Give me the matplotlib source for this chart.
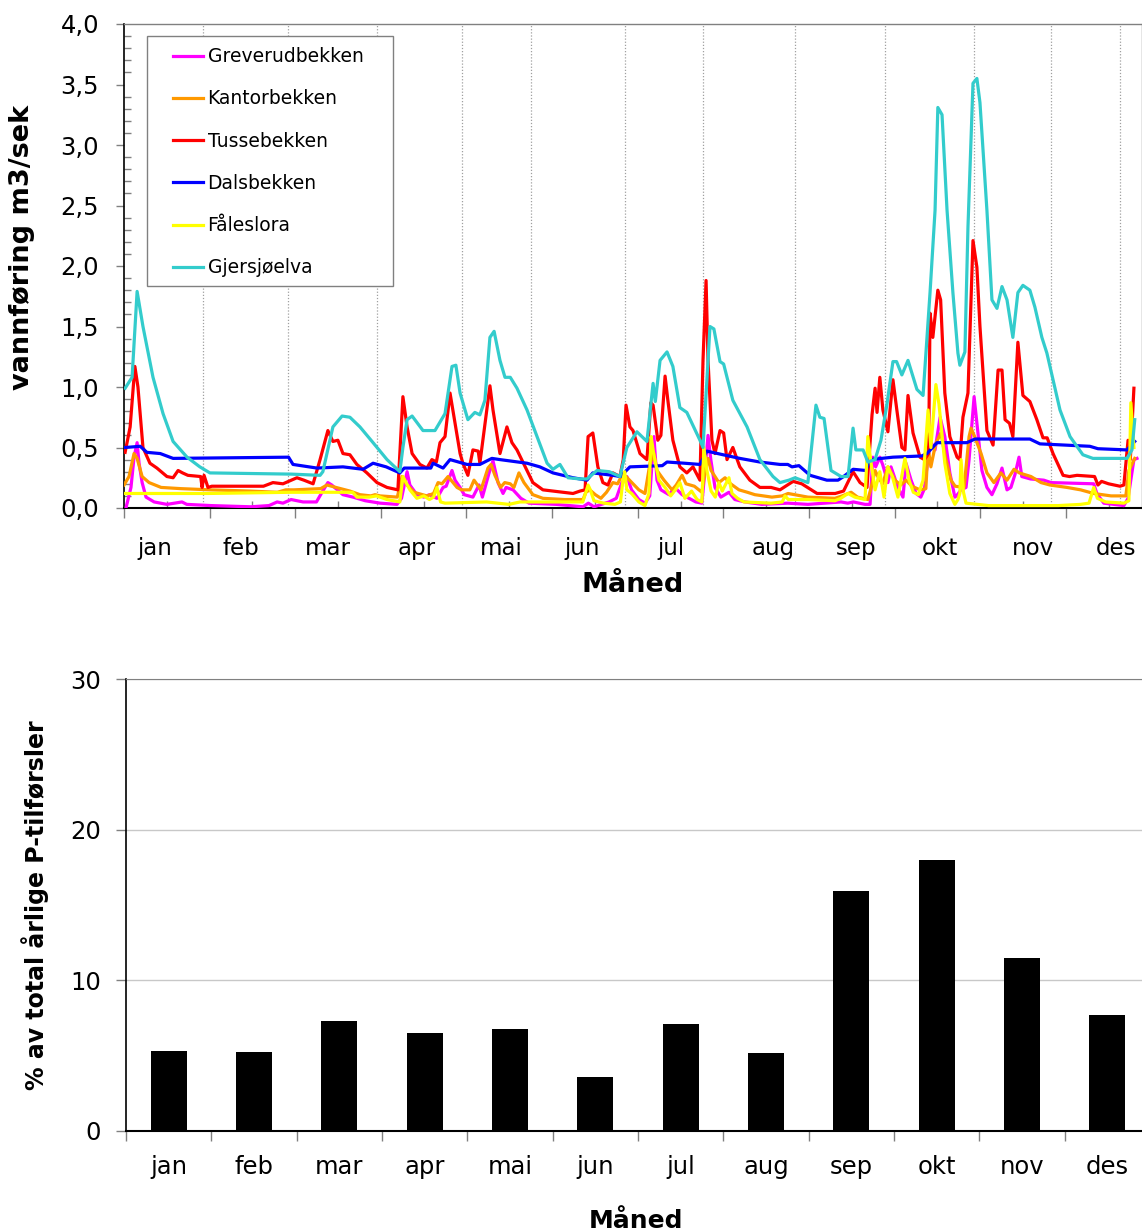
import numpy as np
import matplotlib
matplotlib.use("Agg")
import matplotlib.pyplot as plt
from matplotlib.patches import Rectangle
from matplotlib.ticker import MultipleLocator, FixedLocator, FuncFormatter
from matplotlib.transforms import blended_transform_factory

# --- data -------------------------------------------------------------
months = ["jan", "feb", "mar", "apr", "mai", "jun", "jul", "aug", "sep", "okt", "nov", "des"]

# % of total yearly P load per month
p_share = [5.3, 5.25, 7.3, 6.5, 6.8, 3.6, 7.1, 5.2, 15.9, 18.0, 11.5, 7.7]

series_names = ["Greverudbekken", "Kantorbekken", "Tussebekken",
                "Dalsbekken", "Fåleslora", "Gjersjøelva"]
series_colors = ["#FF00FF", "#FF9900", "#FF0000", "#0000FF", "#FFFF00", "#33CCCC"]

# (day of year, m3/s)
greverud = [(0.7,0.00),(2.5,0.17),(3.6,0.42),(4.7,0.54),(5.4,0.37),(6.5,0.21),(7.9,0.09),(10.8,0.05),
            (15.4,0.03),(20.8,0.05),(22.5,0.03),(31.2,0.02),(45.5,0.01),(52.0,0.02),(54.9,0.05),(57.0,0.04),
            (59.9,0.07),(64.2,0.05),(69.0,0.05),(71.0,0.13),(73.1,0.21),(74.5,0.19),(78.5,0.11),(82.1,0.09),
            (86.5,0.06),(91.8,0.04),(97.9,0.03),(99.5,0.08),(101.5,0.30),(102.5,0.19),(105.0,0.11),(107.5,0.09),
            (109.5,0.11),(112.2,0.08),(114.4,0.17),(115.5,0.18),(117.6,0.31),(118.7,0.23),(120.5,0.17),(122.0,0.11),
            (125.1,0.09),(127.3,0.19),(128.5,0.09),(130.9,0.29),(132.3,0.39),(134.1,0.21),(135.9,0.12),(137.0,0.17),
            (139.5,0.15),(142.3,0.08),(145.2,0.04),(155.0,0.03),(164.6,0.01),(166.5,0.04),(168.5,0.01),(173.9,0.05),
            (176.5,0.08),(178.5,0.21),(180.3,0.26),(182.0,0.15),(184.6,0.07),(186.8,0.04),(188.5,0.10),(190.0,0.59),
            (191.1,0.23),(192.5,0.15),(195.4,0.11),(197.5,0.17),(200.1,0.11),(202.6,0.08),(205.0,0.05),(207.2,0.04),
            (208.3,0.31),(209.4,0.60),(210.4,0.40),(211.9,0.17),(214.0,0.09),(216.9,0.13),(219.0,0.07),(222.6,0.05),
            (228.7,0.03),(238.0,0.04),(245.2,0.03),(257.1,0.05),(259.5,0.04),(261.5,0.05),(265.7,0.03),(267.5,0.03),
            (268.5,0.42),(269.5,0.34),(271.0,0.42),(272.0,0.36),(273.9,0.21),(275.0,0.34),(277.5,0.17),(279.3,0.09),
            (280.4,0.37),(282.2,0.23),(284.0,0.12),(285.7,0.09),(287.0,0.16),(289.0,0.56),(290.8,0.48),(292.6,0.75),
            (294.3,0.59),(296.1,0.29),(297.9,0.09),(298.5,0.10),(300.1,0.15),(301.9,0.17),(303.0,0.40),(304.8,0.92),
            (305.8,0.70),(307.6,0.31),(309.4,0.17),(311.2,0.11),(313.0,0.20),(314.8,0.33),(316.6,0.15),(318.0,0.17),
            (319.5,0.28),(320.9,0.42),(321.9,0.26),(325.0,0.24),(329.8,0.23),(332.4,0.21),(347.7,0.20),(348.8,0.12),
            (351.3,0.04),(358.5,0.02),(360.0,0.08),(362.1,0.40),(363.2,0.41)]

kantor = [(0.0,0.19),(1.8,0.26),(3.6,0.45),(4.7,0.41),(6.5,0.26),(9.0,0.21),(13.3,0.17),(20.4,0.16),
          (31.2,0.15),(45.0,0.14),(55.0,0.13),(58.0,0.15),(60.9,0.15),(70.5,0.16),(72.8,0.19),(76.0,0.17),
          (81.0,0.14),(84.6,0.11),(88.5,0.10),(90.0,0.11),(91.8,0.10),(98.0,0.09),(99.7,0.26),(101.5,0.19),
          (104.0,0.13),(108.6,0.10),(111.0,0.12),(112.6,0.21),(114.0,0.20),(116.2,0.26),(118.0,0.21),(119.4,0.17),
          (121.0,0.15),(124.0,0.15),(125.5,0.23),(128.0,0.15),(130.5,0.33),(131.6,0.36),(133.0,0.27),(135.0,0.17),
          (136.5,0.21),(138.5,0.20),(139.8,0.17),(141.6,0.29),(143.4,0.21),(146.6,0.11),(150.2,0.08),(158.0,0.07),
          (164.6,0.07),(165.6,0.13),(167.0,0.15),(169.0,0.11),(171.0,0.08),(173.0,0.13),(175.3,0.21),(177.0,0.20),
          (178.5,0.27),(180.0,0.26),(182.1,0.21),(184.6,0.15),(186.8,0.12),(188.6,0.37),(190.0,0.45),(191.1,0.31),
          (193.6,0.23),(196.5,0.15),(198.0,0.19),(200.1,0.27),(201.5,0.20),(204.5,0.18),(207.2,0.13),(208.3,0.30),
          (209.4,0.41),(210.5,0.31),(213.3,0.21),(215.5,0.25),(217.5,0.20),(220.5,0.15),(223.5,0.13),(226.2,0.11),
          (232.3,0.09),(236.0,0.10),(238.1,0.12),(240.5,0.11),(245.2,0.09),(254.9,0.08),(257.5,0.10),(260.7,0.13),
          (263.0,0.09),(266.7,0.07),(267.8,0.16),(269.3,0.31),(270.5,0.25),(272.0,0.20),(273.9,0.34),(276.4,0.23),
          (278.5,0.19),(280.4,0.23),(282.5,0.18),(285.4,0.15),(287.5,0.16),(288.3,0.50),(289.3,0.34),(291.0,0.53),
          (292.9,0.62),(294.5,0.42),(296.5,0.23),(298.0,0.18),(301.2,0.17),(303.0,0.59),(303.7,0.66),(305.0,0.59),
          (307.3,0.45),(309.4,0.29),(311.9,0.21),(314.4,0.29),(316.6,0.23),(319.1,0.32),(321.0,0.29),(325.2,0.26),
          (328.8,0.21),(332.0,0.19),(338.1,0.17),(343.0,0.15),(347.7,0.12),(353.9,0.10),(359.2,0.10),(360.3,0.31),
          (362.4,0.41)]

tusse = [(0.4,0.46),(2.2,0.67),(3.9,1.17),(5.0,1.00),(6.8,0.50),(9.3,0.37),(11.8,0.33),(15.4,0.26),
         (17.6,0.25),(19.4,0.31),(21.0,0.29),(22.9,0.27),(27.5,0.26),(28.0,0.17),(28.7,0.27),(30.1,0.17),
         (31.5,0.18),(50.0,0.18),(53.4,0.21),(57.0,0.20),(62.0,0.25),(64.5,0.23),(67.8,0.20),(70.3,0.40),
         (73.1,0.64),(74.9,0.55),(76.7,0.56),(78.5,0.45),(81.0,0.44),(83.5,0.36),(87.1,0.29),(90.7,0.21),
         (94.3,0.17),(98.2,0.15),(100.0,0.92),(101.5,0.67),(103.3,0.45),(106.1,0.36),(108.6,0.33),(110.4,0.40),
         (112.0,0.38),(113.3,0.54),(115.1,0.59),(116.9,0.95),(118.7,0.70),(120.5,0.45),(121.5,0.37),(123.3,0.27),
         (125.1,0.48),(127.0,0.47),(127.6,0.37),(130.1,0.81),(131.2,1.01),(132.3,0.81),(134.8,0.45),(137.3,0.67),
         (139.1,0.54),(140.9,0.48),(144.5,0.31),(146.6,0.21),(150.2,0.15),(161.0,0.12),(163.5,0.14),(165.3,0.15),
         (166.4,0.59),(168.1,0.62),(169.9,0.34),(171.7,0.21),(173.5,0.19),(175.3,0.29),(177.8,0.26),(179.0,0.40),
         (180.0,0.85),(181.4,0.67),(182.5,0.64),(185.0,0.45),(187.5,0.40),(188.9,0.87),(189.7,0.85),(191.4,0.56),
         (192.5,0.60),(194.0,1.09),(195.0,0.89),(196.8,0.56),(199.3,0.34),(201.8,0.29),(204.0,0.34),(206.5,0.23),
         (207.6,1.22),(208.7,1.88),(209.4,1.22),(210.8,0.56),(211.9,0.45),(213.7,0.64),(215.0,0.62),(216.2,0.40),
         (218.3,0.50),(220.8,0.34),(224.4,0.23),(228.0,0.17),(232.0,0.17),(235.2,0.15),(239.9,0.22),(243.0,0.20),
         (248.5,0.12),(255.0,0.12),(258.0,0.14),(261.4,0.30),(263.9,0.21),(266.4,0.17),(268.2,0.77),(269.3,0.99),
         (270.0,0.79),(271.0,1.08),(272.1,0.81),(273.9,0.63),(275.7,1.06),(277.1,0.81),(278.9,0.50),(280.0,0.48),
         (281.1,0.93),(282.9,0.62),(285.4,0.42),(287.0,0.40),(288.5,0.45),(289.0,1.61),(290.0,1.41),(291.8,1.80),
         (292.8,1.72),(294.3,0.95),(296.1,0.59),(298.7,0.42),(299.7,0.40),(300.8,0.75),(302.6,0.95),(304.4,2.21),
         (305.8,1.99),(306.9,1.50),(309.4,0.64),(311.6,0.52),(313.4,1.14),(314.8,1.14),(315.9,0.73),(317.5,0.70),
         (318.7,0.59),(320.5,1.37),(322.3,0.93),(324.8,0.88),(327.3,0.73),(329.5,0.58),(331.0,0.58),(333.1,0.45),
         (336.7,0.27),(339.0,0.26),(341.7,0.27),(348.0,0.26),(349.2,0.19),(350.5,0.22),(353.0,0.20),(357.1,0.18),
         (358.5,0.19),(360.0,0.56),(360.8,0.40),(362.1,0.99)]

dals = [(0.4,0.50),(5.8,0.51),(8.2,0.46),(13.0,0.45),(17.6,0.41),(59.0,0.42),(60.6,0.36),(69.2,0.33),
        (78.5,0.34),(85.7,0.32),(89.3,0.37),(94.0,0.34),(98.9,0.29),(100.5,0.33),(110.0,0.33),(110.8,0.37),
        (114.4,0.33),(116.9,0.40),(123.0,0.36),(127.6,0.36),(131.9,0.41),(134.8,0.40),(144.5,0.37),(149.1,0.34),
        (153.8,0.29),(161.0,0.25),(166.0,0.23),(168.1,0.29),(175.3,0.27),(178.0,0.26),(181.4,0.34),(193.0,0.35),
        (194.7,0.38),(201.0,0.37),(206.5,0.36),(209.0,0.47),(214.8,0.44),(220.8,0.41),(228.0,0.38),(235.2,0.36),
        (238.0,0.36),(239.5,0.34),(242.0,0.35),(246.0,0.27),(252.0,0.23),(256.0,0.23),(258.0,0.26),(261.4,0.32),
        (266.0,0.31),(267.5,0.40),(275.7,0.42),(286.0,0.43),(287.9,0.45),(291.5,0.54),(302.2,0.54),(305.1,0.57),
        (324.8,0.57),(328.4,0.53),(346.3,0.51),(349.2,0.49),(359.6,0.48),(362.4,0.55)]

faale = [(0.0,0.12),(30.0,0.12),(60.0,0.13),(82.0,0.13),(83.5,0.09),(88.0,0.09),(90.5,0.10),(94.3,0.07),
         (98.9,0.05),(100.0,0.26),(102.5,0.15),(105.0,0.08),(107.5,0.10),(109.5,0.07),(111.0,0.09),(112.2,0.17),
         (113.5,0.05),(115.1,0.04),(130.0,0.05),(138.0,0.03),(142.0,0.05),(164.5,0.05),(166.4,0.19),(167.2,0.15),
         (168.5,0.06),(172.0,0.04),(176.0,0.03),(178.0,0.05),(178.9,0.23),(179.5,0.30),(180.3,0.15),(182.0,0.12),
         (184.6,0.05),(186.8,0.02),(188.2,0.12),(189.0,0.59),(189.9,0.45),(191.8,0.23),(194.0,0.17),(196.0,0.10),
         (197.7,0.15),(199.3,0.21),(201.1,0.08),(203.5,0.14),(205.5,0.07),(207.2,0.05),(207.9,0.50),(209.0,0.31),
         (210.5,0.14),(212.0,0.09),(213.3,0.21),(214.5,0.14),(216.9,0.25),(218.0,0.12),(220.0,0.08),(222.3,0.05),
         (232.0,0.04),(236.0,0.05),(237.0,0.10),(238.2,0.07),(245.2,0.07),(254.9,0.06),(257.0,0.08),(259.6,0.12),
         (262.0,0.09),(265.7,0.07),(266.7,0.59),(267.8,0.38),(269.3,0.15),(271.0,0.30),(272.5,0.09),(273.9,0.34),
         (275.5,0.26),(277.5,0.09),(280.0,0.41),(281.5,0.23),(283.0,0.13),(284.8,0.11),(286.5,0.23),(288.3,0.81),
         (289.3,0.50),(291.1,1.02),(292.2,0.86),(294.3,0.37),(296.1,0.12),(297.9,0.03),(299.0,0.07),(299.7,0.12),
         (300.1,0.40),(301.0,0.13),(301.9,0.04),(310.0,0.02),(335.0,0.02),(343.0,0.03),(346.0,0.04),(347.7,0.17),
         (349.0,0.08),(352.0,0.05),(358.5,0.04),(360.3,0.06),(361.0,0.87),(362.1,0.50)]

gjersjo = [(0.4,0.99),(2.9,1.08),(4.7,1.79),(6.8,1.50),(10.4,1.08),(14.0,0.78),(17.6,0.55),(22.6,0.42),
           (27.2,0.34),(30.8,0.29),(60.0,0.28),(70.3,0.27),(71.3,0.30),(74.9,0.67),(78.2,0.76),(81.0,0.75),
           (84.6,0.67),(89.3,0.54),(94.3,0.40),(98.9,0.30),(100.0,0.50),(101.5,0.73),(103.3,0.76),(107.2,0.64),
           (111.5,0.64),(115.1,0.78),(117.6,1.17),(119.0,1.18),(120.5,0.95),(123.3,0.73),(125.8,0.79),(127.6,0.77),
           (129.4,0.89),(131.2,1.41),(132.7,1.46),(134.8,1.22),(136.6,1.08),(138.5,1.08),(140.9,0.99),(144.5,0.81),
           (148.1,0.59),(151.7,0.37),(153.8,0.32),(156.3,0.36),(159.2,0.25),(163.5,0.24),(166.0,0.24),(169.6,0.31),
           (174.0,0.30),(177.8,0.26),(180.3,0.50),(183.9,0.63),(187.5,0.55),(189.7,1.03),(190.5,0.88),(192.2,1.22),
           (194.7,1.29),(196.8,1.17),(199.3,0.83),(201.8,0.79),(206.5,0.56),(207.6,0.50),(210.1,1.50),(211.5,1.48),
           (213.7,1.21),(215.0,1.19),(218.3,0.89),(223.4,0.67),(228.0,0.40),(232.7,0.26),(235.2,0.21),(238.4,0.23),
           (240.6,0.25),(245.2,0.21),(248.1,0.85),(249.5,0.75),(251.0,0.74),(253.5,0.31),(257.1,0.26),(259.6,0.26),
           (261.4,0.66),(262.4,0.48),(265.0,0.48),(266.7,0.38),(269.3,0.40),(271.4,0.56),(273.5,0.85),(275.7,1.21),
           (277.0,1.21),(278.9,1.10),(281.1,1.22),(284.3,0.98),(286.5,0.93),(289.0,1.78),(290.8,2.46),(291.8,3.31),
           (293.3,3.25),(295.1,2.46),(297.2,1.78),(299.0,1.28),(299.7,1.18),(301.5,1.29),(302.6,2.32),(304.4,3.51),
           (305.8,3.55),(306.9,3.35),(309.4,2.46),(311.2,1.72),(313.0,1.65),(314.8,1.83),(316.6,1.72),(318.7,1.41),
           (320.5,1.78),(322.3,1.84),(324.8,1.80),(326.6,1.66),(329.1,1.41),(330.9,1.28),(333.1,1.06),(335.6,0.81),
           (339.2,0.59),(343.8,0.44),(347.4,0.41),(359.6,0.41),(361.4,0.48),(362.4,0.73)]

all_series = [greverud, kantor, tusse, dals, faale, gjersjo]

# --- figure -----------------------------------------------------------
W, H = 1142, 1232
fig = plt.figure(figsize=(W / 100, H / 100), dpi=100)
grey = "#808080"

# top panel: discharge
ax1 = fig.add_axes([124 / W, 1 - 508 / H, 1018 / W, 484 / H])
for name, pts, col in zip(series_names, all_series, series_colors):
    d, q = zip(*pts)
    ax1.plot(d, q, color=col, lw=2.3, label=name, solid_joinstyle="round", zorder=3)

ax1.set_xlim(0, 365)
ax1.set_ylim(0, 4)

# irregular dotted vertical lines in the original
for g in [28.3, 58.8, 90.7, 121.2, 145.9, 179.6, 207.6, 240.6, 272.8, 304.8, 332.4, 357.1]:
    ax1.axvline(g, color="#a0a0a0", lw=0.9, ls=(0, (1, 1.5)), zorder=1)

ax1.yaxis.set_major_locator(MultipleLocator(0.5))
ax1.yaxis.set_minor_locator(MultipleLocator(0.1))
ax1.yaxis.set_major_formatter(FuncFormatter(lambda v, p: f"{v:.1f}".replace(".", ",")))
ax1.xaxis.set_major_locator(FixedLocator(np.arange(0, 366, 30.7)))
ax1.xaxis.set_minor_locator(FixedLocator(np.arange(15.35, 366, 30.7)))
ax1.xaxis.set_major_formatter(FuncFormatter(lambda v, p: ""))
ax1.tick_params(axis="y", which="major", direction="out", length=6, width=1, color=grey,
                labelsize=17.5, pad=12)
ax1.tick_params(axis="y", which="minor", direction="in", length=5, width=1, color=grey)
ax1.tick_params(axis="x", which="major", direction="out", length=7, width=1, color=grey)
ax1.tick_params(axis="x", which="minor", direction="in", length=5, width=1, color=grey)
for s in ["top", "right"]:
    ax1.spines[s].set_color(grey)
    ax1.spines[s].set_linewidth(1)
ax1.spines["left"].set_linewidth(1.2)
ax1.spines["bottom"].set_linewidth(1.5)

tr = blended_transform_factory(ax1.transData, ax1.transAxes)
month_pos_top = [11.1, 41.9, 73.1, 105.0, 135.2, 164.2, 196.1, 232.7, 262.4, 292.6, 325.9, 355.7]
for xp, m in zip(month_pos_top, months):
    ax1.text(xp, -0.083, m, transform=tr, ha="center", va="center", fontsize=16.5)
ax1.text(0.5, -0.159, "Måned", transform=ax1.transAxes, ha="center", va="center",
         fontsize=19.5, fontweight="bold")

# legend with hand drawn frame
ax1.add_patch(Rectangle((0.0226, 0.459), 0.2416, 0.516, transform=ax1.transAxes,
                        facecolor="white", edgecolor=grey, lw=1, zorder=4))
leg = ax1.legend(loc="upper left", bbox_to_anchor=(0.048, 0.952), frameon=False,
                 fontsize=13.5, handlelength=1.6, handletextpad=0.25, labelspacing=1.24,
                 borderpad=0, borderaxespad=0)
leg.set_zorder(5)

fig.text(22 / W, 1 - 247 / H, "vannføring m3/sek", rotation=90, ha="center", va="center",
         fontsize=19.5, fontweight="bold")

# bottom panel: monthly P share
ax2 = fig.add_axes([126 / W, 1 - 1131 / H, 1024 / W, 452 / H])
x = np.arange(len(months))
ax2.bar(x, p_share, width=0.42, color="black", zorder=3)
ax2.set_xlim(-0.5, 11.5)
ax2.set_ylim(0, 30)
ax2.set_yticks([0, 10, 20, 30])
ax2.yaxis.grid(True, color="#c8c8c8", lw=1)
ax2.set_axisbelow(True)
ax2.xaxis.set_major_locator(FixedLocator(np.arange(-0.5, 12, 1)))
ax2.xaxis.set_major_formatter(FuncFormatter(lambda v, p: ""))
ax2.xaxis.set_minor_locator(FixedLocator(x))
ax2.set_xticklabels(months, minor=True)
ax2.tick_params(axis="x", which="major", direction="out", length=7, width=1, color=grey)
ax2.tick_params(axis="x", which="minor", length=0, labelsize=17.5, pad=17)
ax2.tick_params(axis="y", direction="out", length=7, width=1, color=grey, labelsize=17.5, pad=11)
ax2.spines["top"].set_color(grey)
ax2.spines["right"].set_visible(False)
ax2.spines["left"].set_linewidth(1.2)
ax2.spines["bottom"].set_linewidth(1.5)

fig.text(35 / W, 1 - 905 / H, "% av total årlige P-tilførsler", rotation=90, ha="center",
         va="center", fontsize=17, fontweight="bold")
fig.text(636 / W, 1 - 1221 / H, "Måned", ha="center", va="center", fontsize=18,
         fontweight="bold")

fig.savefig("out.png", dpi=100)
